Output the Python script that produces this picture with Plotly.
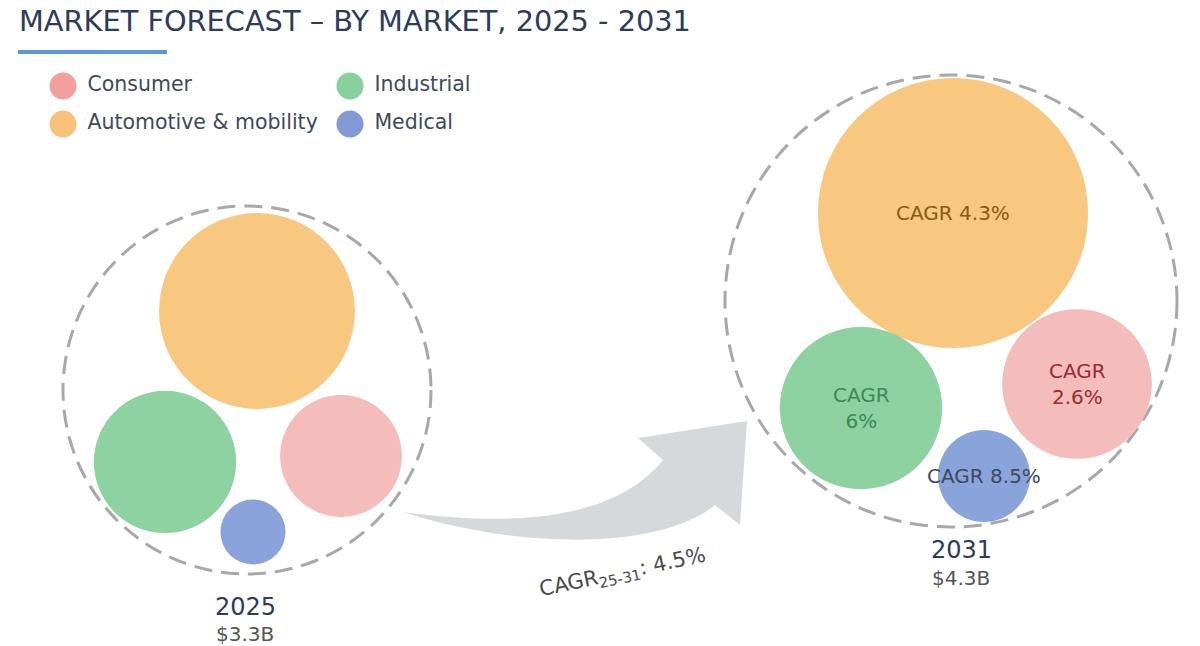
import math
import plotly.graph_objects as go

# --- data ---
segments = ["Consumer", "Automotive & mobility", "Industrial", "Medical"]
value_2025 = [0.63, 1.63, 0.86, 0.18]   # $B
value_2031 = [0.74, 2.41, 0.87, 0.28]   # $B
cagr_labels = ["CAGR<br>2.6%", "CAGR 4.3%", "CAGR<br>6%", "CAGR 8.5%"]
years = ["2025", "2031"]
totals = [3.3, 4.3]
overall_cagr = "4.5%"

# --- styling / layout ---
fill_colors = ["#f4bcbb", "#f8c780", "#8ed2a2", "#8aa3db"]
legend_colors = ["#f29f9d", "#f8c27a", "#86d09c", "#8499d6"]
label_colors = ["#9b2b2b", "#8a5a16", "#3c8a52", "#3d4a5c"]
FONT = "DejaVu Sans"
NAVY = "#2d3b5c"

panels = [
    dict(cx=247, cy=390, outer=184, scale=76.7,
         centers=[(341, 456), (257, 311), (165, 462), (253, 532)],
         labels=False, text_x=245, year_y=607, total_y=634),
    dict(cx=951, cy=301, outer=226, scale=87.0,
         centers=[(1077, 384), (953, 213), (861, 408), (984, 476)],
         labels=True, text_x=961, year_y=550, total_y=578),
]
panel_values = [value_2025, value_2031]

fig = go.Figure()
shapes = []
annotations = []

for p, vals, year, total in zip(panels, panel_values, years, totals):
    shapes.append(dict(type="circle", xref="x", yref="y",
                       x0=p["cx"] - p["outer"], x1=p["cx"] + p["outer"],
                       y0=p["cy"] - p["outer"], y1=p["cy"] + p["outer"],
                       line=dict(color="#a8a8a8", width=3, dash="18px,9px"),
                       layer="below"))
    for i, v in enumerate(vals):
        r = p["scale"] * math.sqrt(v)
        cx, cy = p["centers"][i]
        shapes.append(dict(type="circle", xref="x", yref="y",
                           x0=cx - r, x1=cx + r, y0=cy - r, y1=cy + r,
                           fillcolor=fill_colors[i], line=dict(width=0),
                           layer="below"))
        if p["labels"]:
            annotations.append(dict(x=cx, y=cy, xref="x", yref="y",
                                    text=cagr_labels[i], showarrow=False,
                                    font=dict(family=FONT, size=20, color=label_colors[i])))
    annotations.append(dict(x=p["text_x"], y=p["year_y"], xref="x", yref="y",
                            text=year, showarrow=False,
                            font=dict(family=FONT, size=24, color=NAVY)))
    annotations.append(dict(x=p["text_x"], y=p["total_y"], xref="x", yref="y",
                            text="$%.1fB" % total, showarrow=False,
                            font=dict(family=FONT, size=20, color="#555555")))

# growth arrow
shapes.append(dict(type="path", xref="x", yref="y",
                   path="M 403,512 C 500,525 610,525 663,460 L 638,438 L 747,421 "
                        "L 740,525 L 715,505 C 660,550 520,550 403,512 Z",
                   fillcolor="#d6d9dc", line=dict(width=0), layer="below"))
annotations.append(dict(x=622, y=573, xref="x", yref="y", textangle=-12,
                        text="CAGR<sub>25-31</sub>: " + overall_cagr, showarrow=False,
                        font=dict(family=FONT, size=21, color="#4a4a4a")))

# title + underline
annotations.append(dict(x=17, y=21, xref="x", yref="y", xanchor="left",
                        text="MARKET FORECAST – BY MARKET, 2025 - 2031", showarrow=False,
                        font=dict(family=FONT, size=28.8, color=NAVY)))
shapes.append(dict(type="rect", xref="x", yref="y", x0=18, x1=167, y0=50, y1=54,
                   fillcolor="#5b9bd5", line=dict(width=0)))

# legend (2 x 2 grid)
legend_pos = [(63, 86), (63, 124), (350, 86), (350, 124)]
fig.add_trace(go.Scatter(
    x=[pos[0] for pos in legend_pos], y=[pos[1] for pos in legend_pos],
    mode="markers+text", text=[" " + s for s in segments], textposition="middle right",
    marker=dict(size=27, color=legend_colors, line=dict(width=0)),
    textfont=dict(family=FONT, size=20.5, color="#3d4a5c"),
    hoverinfo="skip", showlegend=False))

fig.update_layout(
    width=1200, height=646,
    margin=dict(l=0, r=0, t=0, b=0),
    paper_bgcolor="white", plot_bgcolor="white",
    shapes=shapes, annotations=annotations,
    xaxis=dict(range=[0, 1200], visible=False, fixedrange=True),
    yaxis=dict(range=[646, 0], visible=False, fixedrange=True),
    showlegend=False,
)

fig.write_html("out.html", post_script="document.body.style.margin='0';",
               config={"displayModeBar": False})
